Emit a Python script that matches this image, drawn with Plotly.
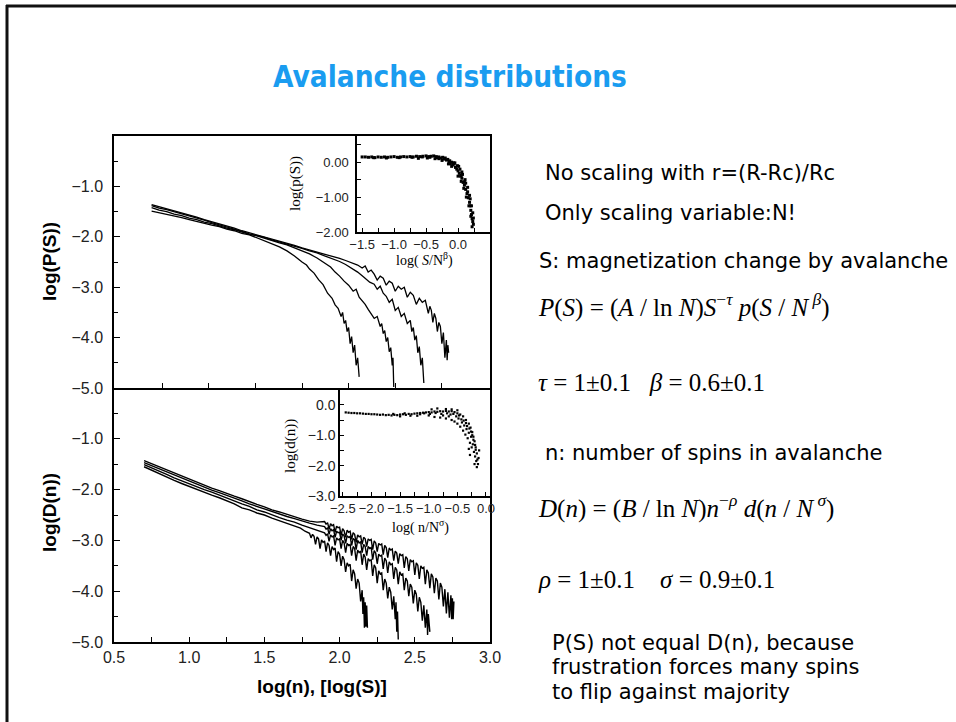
import plotly.graph_objects as go

W, H = 956, 722

# ---- P(S): four system sizes, log(S) vs log(P(S)) ----
ps_a_x = [0.75, 0.80, 0.85, 0.90, 0.95, 1.00, 1.05, 1.10, 1.15, 1.20, 1.25, 1.30, 1.35, 1.40, 1.45, 1.50,
          1.55, 1.60, 1.65, 1.70, 1.75, 1.78, 1.80, 1.83, 1.86, 1.89, 1.92, 1.95, 1.97, 1.99, 2.01, 2.02,
          2.03, 2.04, 2.05, 2.06, 2.07, 2.08, 2.09, 2.10, 2.11, 2.12, 2.13]
ps_a_y = [-1.49, -1.52, -1.56, -1.59, -1.62, -1.66, -1.70, -1.73, -1.77, -1.80, -1.85, -1.88, -1.93, -1.96, -2.02, -2.08,
          -2.13, -2.20, -2.28, -2.38, -2.50, -2.56, -2.64, -2.72, -2.85, -2.95, -3.12, -3.22, -3.35, -3.42, -3.58, -3.50,
          -3.72, -3.66, -3.88, -3.80, -4.12, -3.98, -4.30, -4.15, -4.55, -4.40, -4.78]

ps_b_x = [0.75, 0.80, 0.85, 0.90, 0.95, 1.00, 1.05, 1.10, 1.15, 1.20, 1.25, 1.30, 1.35, 1.40, 1.45, 1.50,
          1.55, 1.60, 1.65, 1.70, 1.75, 1.80, 1.85, 1.90, 1.94, 1.97, 2.00, 2.03, 2.06, 2.09, 2.11, 2.13,
          2.15, 2.17, 2.19, 2.21, 2.23, 2.25, 2.27, 2.28, 2.29, 2.30, 2.31, 2.32, 2.33, 2.34, 2.35, 2.355, 2.36]
ps_b_y = [-1.42, -1.47, -1.50, -1.55, -1.58, -1.63, -1.66, -1.71, -1.74, -1.79, -1.83, -1.86, -1.91, -1.95, -1.98, -2.03,
          -2.07, -2.12, -2.16, -2.22, -2.28, -2.34, -2.42, -2.52, -2.60, -2.70, -2.78, -2.88, -2.96, -3.08, -3.04, -3.20,
          -3.26, -3.34, -3.44, -3.52, -3.62, -3.58, -3.78, -3.72, -3.92, -3.86, -4.08, -4.00, -4.28, -4.20, -4.55, -4.40, -4.98]

ps_c_x = [0.75, 0.80, 0.85, 0.90, 0.95, 1.00, 1.05, 1.10, 1.15, 1.20, 1.25, 1.30, 1.35, 1.40, 1.45, 1.50,
          1.55, 1.60, 1.65, 1.70, 1.75, 1.80, 1.85, 1.90, 1.95, 2.00, 2.04, 2.08, 2.12, 2.16, 2.20, 2.23,
          2.25, 2.27, 2.29, 2.31, 2.33, 2.35, 2.37, 2.39, 2.41, 2.43, 2.45, 2.47, 2.48, 2.49, 2.50, 2.51,
          2.52, 2.53, 2.54, 2.55, 2.56]
ps_c_y = [-1.38, -1.43, -1.46, -1.50, -1.55, -1.58, -1.63, -1.67, -1.72, -1.76, -1.80, -1.85, -1.89, -1.94, -1.97, -2.01,
          -2.06, -2.10, -2.14, -2.19, -2.23, -2.28, -2.32, -2.38, -2.43, -2.49, -2.55, -2.62, -2.70, -2.80, -2.90, -2.94,
          -3.04, -2.98, -3.12, -3.18, -3.30, -3.24, -3.46, -3.40, -3.58, -3.52, -3.72, -3.66, -3.88, -3.80, -4.05, -3.96,
          -4.30, -4.18, -4.55, -4.40, -4.90]

ps_d_x = [0.75, 0.80, 0.85, 0.90, 0.95, 1.00, 1.05, 1.10, 1.15, 1.20, 1.25, 1.30, 1.35, 1.40, 1.45, 1.50,
          1.55, 1.60, 1.65, 1.70, 1.75, 1.80, 1.85, 1.90, 1.95, 2.00, 2.04, 2.08, 2.12,
          2.15, 2.17, 2.19, 2.21, 2.23, 2.25, 2.27, 2.29, 2.31, 2.33, 2.35, 2.37, 2.39, 2.41, 2.43, 2.45,
          2.47, 2.49, 2.51, 2.53, 2.55, 2.57, 2.59, 2.60, 2.61, 2.62, 2.63, 2.64, 2.65, 2.66, 2.67, 2.68,
          2.69, 2.70, 2.71, 2.715, 2.72, 2.725]
ps_d_y = [-1.36, -1.40, -1.44, -1.48, -1.52, -1.56, -1.61, -1.66, -1.70, -1.74, -1.79, -1.83, -1.88, -1.92, -1.96, -2.00,
          -2.04, -2.08, -2.13, -2.17, -2.22, -2.26, -2.30, -2.34, -2.39, -2.43, -2.47, -2.52, -2.56,
          -2.62, -2.58, -2.70, -2.66, -2.74, -2.86, -2.78, -2.82, -2.96, -2.88, -2.92, -3.08, -2.98, -3.04, -3.00, -3.20,
          -3.10, -3.16, -3.34, -3.22, -3.30, -3.26, -3.52, -3.38, -3.46, -3.70, -3.52, -3.62, -3.88, -3.70, -3.78, -4.12,
          -3.90, -4.40, -4.05, -4.45, -4.15, -4.30]

# ---- D(n): four system sizes, log(n) vs log(D(n)); power-law part ----
dn_a_head_x = [0.70, 0.75, 0.80, 0.85, 0.90, 0.95, 1.00, 1.05, 1.10, 1.15, 1.20, 1.25, 1.30, 1.35, 1.40,
               1.45, 1.50, 1.55, 1.60, 1.65, 1.70, 1.74, 1.77]
dn_a_head_y = [-1.55, -1.62, -1.69, -1.75, -1.82, -1.88, -1.94, -2.00, -2.05, -2.11, -2.16, -2.22, -2.28, -2.36, -2.40,
               -2.46, -2.50, -2.56, -2.61, -2.66, -2.72, -2.76, -2.82]
dn_b_head_x = [0.70, 0.75, 0.80, 0.85, 0.90, 0.95, 1.00, 1.05, 1.10, 1.15, 1.20, 1.25, 1.30, 1.35, 1.40,
               1.45, 1.50, 1.55, 1.60, 1.65, 1.70, 1.75, 1.80, 1.85]
dn_b_head_y = [-1.51, -1.57, -1.64, -1.70, -1.77, -1.83, -1.89, -1.95, -2.00, -2.05, -2.11, -2.17, -2.22, -2.28, -2.33,
               -2.40, -2.44, -2.50, -2.55, -2.60, -2.64, -2.70, -2.75, -2.80]
dn_c_head_x = [0.70, 0.75, 0.80, 0.85, 0.90, 0.95, 1.00, 1.05, 1.10, 1.15, 1.20, 1.25, 1.30, 1.35, 1.40,
               1.45, 1.50, 1.55, 1.60, 1.65, 1.70, 1.75, 1.80, 1.85]
dn_c_head_y = [-1.47, -1.53, -1.60, -1.66, -1.72, -1.78, -1.84, -1.90, -1.95, -2.01, -2.06, -2.11, -2.17, -2.22, -2.28,
               -2.33, -2.38, -2.44, -2.48, -2.53, -2.57, -2.62, -2.66, -2.70]
dn_d_head_x = [0.70, 0.75, 0.80, 0.85, 0.90, 0.95, 1.00, 1.05, 1.10, 1.15, 1.20, 1.25, 1.30, 1.35, 1.40,
               1.45, 1.50, 1.55, 1.60, 1.65, 1.70, 1.75, 1.80, 1.85]
dn_d_head_y = [-1.43, -1.49, -1.55, -1.62, -1.68, -1.74, -1.80, -1.86, -1.91, -1.97, -2.02, -2.08, -2.13, -2.18, -2.24,
               -2.29, -2.34, -2.40, -2.44, -2.49, -2.53, -2.58, -2.62, -2.64]

# ---- D(n): noisy cutoff regions as (log n, log D) pairs ----
dn_a_tail = [(1.80, -2.86), (1.81, -2.95), (1.82, -2.88), (1.83, -2.92), (1.84, -3.08), (1.85, -2.93), (1.86, -2.97),
             (1.87, -3.16), (1.88, -2.99), (1.89, -3.04), (1.90, -3.01), (1.91, -3.22), (1.92, -3.05), (1.93, -3.10),
             (1.94, -3.30), (1.95, -3.12), (1.96, -3.18), (1.97, -3.15), (1.98, -3.42), (1.99, -3.22), (2.00, -3.27),
             (2.01, -3.50), (2.02, -3.31), (2.03, -3.38), (2.04, -3.62), (2.05, -3.44), (2.06, -3.50), (2.07, -3.47),
             (2.08, -3.80), (2.09, -3.58), (2.10, -3.66), (2.11, -3.95), (2.12, -3.76), (2.13, -3.84), (2.14, -4.20),
             (2.15, -3.98), (2.155, -4.45), (2.16, -4.12), (2.165, -4.72), (2.17, -4.22), (2.175, -4.70), (2.18, -4.28),
             (2.185, -4.72)]
dn_b_tail = [(1.90, -2.85), (1.91, -2.90), (1.92, -2.87), (1.93, -3.02), (1.94, -2.89), (1.95, -2.93), (1.96, -2.91),
             (1.97, -3.10), (1.98, -2.95), (1.99, -2.99), (2.00, -2.97), (2.01, -3.16), (2.02, -3.00), (2.03, -3.05),
             (2.04, -3.24), (2.05, -3.06), (2.06, -3.10), (2.07, -3.08), (2.08, -3.30), (2.09, -3.12), (2.10, -3.16),
             (2.11, -3.40), (2.12, -3.19), (2.13, -3.24), (2.14, -3.21), (2.15, -3.48), (2.16, -3.27), (2.17, -3.33),
             (2.18, -3.58), (2.19, -3.36), (2.20, -3.40), (2.21, -3.38), (2.22, -3.70), (2.23, -3.48), (2.24, -3.54),
             (2.25, -3.84), (2.26, -3.60), (2.27, -3.66), (2.28, -3.64), (2.29, -3.98), (2.30, -3.76), (2.31, -3.84),
             (2.32, -4.14), (2.33, -3.92), (2.34, -4.02), (2.35, -4.36), (2.36, -4.10), (2.37, -4.55), (2.375, -4.22),
             (2.38, -4.80), (2.385, -4.40), (2.39, -4.95)]
dn_c_tail = [(1.90, -2.73), (1.91, -2.78), (1.92, -2.75), (1.93, -2.88), (1.94, -2.77), (1.95, -2.81), (1.96, -2.79),
             (1.97, -2.94), (1.98, -2.82), (1.99, -2.85), (2.00, -2.84), (2.01, -3.00), (2.02, -2.87), (2.03, -2.91),
             (2.04, -3.06), (2.05, -2.91), (2.06, -2.94), (2.07, -2.92), (2.08, -3.10), (2.09, -2.96), (2.10, -2.99),
             (2.11, -3.18), (2.12, -3.00), (2.13, -3.05), (2.14, -3.03), (2.15, -3.24), (2.16, -3.08), (2.17, -3.12),
             (2.18, -3.30), (2.19, -3.12), (2.20, -3.16), (2.21, -3.14), (2.22, -3.38), (2.23, -3.20), (2.24, -3.25),
             (2.25, -3.46), (2.26, -3.27), (2.27, -3.31), (2.28, -3.29), (2.29, -3.56), (2.30, -3.35), (2.31, -3.40),
             (2.32, -3.64), (2.33, -3.42), (2.34, -3.48), (2.35, -3.46), (2.36, -3.76), (2.37, -3.53), (2.38, -3.58),
             (2.39, -3.86), (2.40, -3.62), (2.41, -3.68), (2.42, -3.66), (2.43, -3.98), (2.44, -3.74), (2.45, -3.80),
             (2.46, -4.10), (2.47, -3.86), (2.48, -3.92), (2.49, -4.24), (2.50, -3.98), (2.51, -4.06), (2.52, -4.40),
             (2.53, -4.12), (2.54, -4.22), (2.55, -4.58), (2.56, -4.28), (2.57, -4.72), (2.58, -4.36), (2.585, -4.86),
             (2.59, -4.45), (2.60, -4.80)]
dn_d_tail = [(1.90, -2.63), (1.91, -2.68), (1.92, -2.65), (1.93, -2.78), (1.94, -2.67), (1.95, -2.71), (1.96, -2.69),
             (1.97, -2.84), (1.98, -2.72), (1.99, -2.75), (2.00, -2.74), (2.01, -2.90), (2.02, -2.77), (2.03, -2.81),
             (2.04, -2.94), (2.05, -2.80), (2.06, -2.84), (2.07, -2.82), (2.08, -2.98), (2.09, -2.85), (2.10, -2.88),
             (2.11, -3.04), (2.12, -2.89), (2.13, -2.93), (2.14, -2.91), (2.15, -3.08), (2.16, -2.94), (2.17, -2.97),
             (2.18, -3.12), (2.19, -2.97), (2.20, -3.00), (2.21, -2.98), (2.22, -3.18), (2.23, -3.01), (2.24, -3.05),
             (2.25, -3.22), (2.26, -3.06), (2.27, -3.09), (2.28, -3.07), (2.29, -3.28), (2.30, -3.10), (2.31, -3.14),
             (2.32, -3.34), (2.33, -3.15), (2.34, -3.19), (2.35, -3.17), (2.36, -3.40), (2.37, -3.21), (2.38, -3.25),
             (2.39, -3.46), (2.40, -3.26), (2.41, -3.30), (2.42, -3.28), (2.43, -3.54), (2.44, -3.32), (2.45, -3.36),
             (2.46, -3.60), (2.47, -3.38), (2.48, -3.42), (2.49, -3.40), (2.50, -3.68), (2.51, -3.44), (2.52, -3.49),
             (2.53, -3.76), (2.54, -3.50), (2.55, -3.55), (2.56, -3.53), (2.57, -3.86), (2.58, -3.58), (2.59, -3.64),
             (2.60, -3.94), (2.61, -3.66), (2.62, -3.72), (2.63, -4.04), (2.64, -3.74), (2.65, -3.80), (2.66, -4.16),
             (2.67, -3.84), (2.68, -3.92), (2.69, -4.30), (2.70, -3.96), (2.71, -4.44), (2.72, -4.02), (2.73, -4.52),
             (2.74, -4.08), (2.745, -4.55), (2.75, -4.14), (2.755, -4.55), (2.76, -4.20)]

# ---- scaling collapse p(S / N^beta) ----
pc_x = [-1.50, -1.45, -1.40, -1.35, -1.30, -1.25, -1.20, -1.15, -1.10, -1.05, -1.00, -0.95, -0.90, -0.85, -0.80,
        -0.75, -0.70, -0.65, -0.60, -0.55, -0.50, -0.46, -0.42, -0.38, -0.34, -0.30, -0.27, -0.24, -0.21, -0.18,
        -0.16, -0.14, -0.12, -0.10, -0.08, -0.06, -0.04, -0.02, 0.00, 0.02, 0.04, 0.06, 0.08, 0.10, 0.12,
        0.14, 0.16, 0.18, 0.19, 0.20, 0.21, 0.22, 0.23, 0.24,
        -0.30, -0.20, -0.15, -0.10, -0.05, 0.00, 0.03, 0.05, 0.07, 0.09, 0.11, 0.13, 0.15, 0.17, 0.18,
        0.20, 0.21, 0.22, 0.23, 0.24, -0.62, -0.48, -0.36, -0.25, 0.01, 0.06, 0.12, 0.19,
        -1.32, -1.12, -0.92, -0.72, -0.56, -0.44, -0.33, -0.22, -0.13, -0.07, -0.01, 0.05, 0.10, 0.15]
pc_y = [0.15, 0.15, 0.14, 0.15, 0.13, 0.15, 0.14, 0.15, 0.14, 0.15, 0.16, 0.14, 0.15, 0.16, 0.15,
        0.16, 0.15, 0.17, 0.16, 0.17, 0.18, 0.16, 0.17, 0.18, 0.16, 0.15, 0.12, 0.14, 0.10, 0.06,
        0.08, 0.02, -0.04, 0.00, -0.08, -0.05, -0.15, -0.20, -0.25, -0.32, -0.40, -0.46, -0.58, -0.66, -0.78,
        -0.90, -1.02, -1.15, -1.25, -1.38, -1.50, -1.62, -1.70, -1.78,
        0.10, 0.12, -0.05, -0.12, -0.02, -0.40, -0.20, -0.55, -0.35, -0.75, -0.50, -1.00, -0.72, -1.25, -0.95,
        -1.55, -1.25, -1.85, -1.45, -1.60, 0.11, 0.12, 0.10, 0.05, -0.12, -0.28, -0.60, -1.05,
        0.13, 0.12, 0.13, 0.14, 0.15, 0.14, 0.13, 0.09, 0.04, -0.02, -0.10, -0.38, -0.56, -0.85]

# ---- scaling collapse d(n / N^sigma) ----
dc_x = [-2.45, -2.40, -2.35, -2.30, -2.25, -2.20, -2.15, -2.10, -2.05, -2.00, -1.95, -1.90, -1.85, -1.80,
        -1.75, -1.70, -1.65, -1.60, -1.55, -1.50, -1.45, -1.40, -1.35, -1.30, -1.25, -1.20, -1.15, -1.10,
        -1.05, -1.00, -0.95, -0.90, -0.85, -0.80, -0.75, -0.70, -0.65, -0.60, -0.55, -0.50, -0.45, -0.40,
        -0.35, -0.30, -0.27, -0.24, -0.22, -0.20, -0.18, -0.16, -0.15, -0.14,
        -1.50, -1.20, -1.00, -0.90, -0.80, -0.75, -0.70, -0.65, -0.60, -0.55, -0.50, -0.48, -0.45, -0.42,
        -0.40, -0.38, -0.36, -0.34, -0.32, -0.30, -0.28, -0.26, -0.25, -0.23, -0.21, -0.19, -0.17, -0.16,
        -0.13, -0.12, -0.30, -0.28, -0.20, -0.95, -0.85, -0.70, -0.60, -0.50,
        -1.62, -1.42, -1.32, -1.15, -1.08, -0.98, -0.88, -0.78, -0.68, -0.62, -0.57, -0.52, -0.47, -0.43,
        -0.39, -0.35, -0.33, -0.29, -0.26, -0.24, -0.22, -0.19, -0.18]
dc_y = [-0.25, -0.26, -0.27, -0.27, -0.28, -0.28, -0.29, -0.30, -0.30, -0.31, -0.31, -0.32, -0.33, -0.32,
        -0.34, -0.33, -0.35, -0.33, -0.34, -0.32, -0.31, -0.33, -0.30, -0.31, -0.29, -0.28, -0.27, -0.26,
        -0.25, -0.24, -0.25, -0.22, -0.23, -0.21, -0.22, -0.20, -0.22, -0.21, -0.24, -0.28, -0.32, -0.38,
        -0.50, -0.62, -0.75, -0.90, -1.05, -1.20, -1.40, -1.60, -1.80, -1.95,
        -0.38, -0.36, -0.35, -0.40, -0.42, -0.35, -0.45, -0.38, -0.50, -0.55, -0.62, -0.45, -0.72, -0.58,
        -0.85, -0.68, -0.98, -0.80, -1.10, -0.92, -1.25, -1.05, -1.40, -1.30, -1.55, -1.70, -1.85, -2.05,
        -1.75, -1.50, -1.45, -1.65, -1.95, -0.15, -0.12, -0.14, -0.15, -0.18,
        -0.30, -0.28, -0.36, -0.31, -0.28, -0.30, -0.27, -0.30, -0.28, -0.32, -0.30, -0.38, -0.35, -0.48,
        -0.52, -0.60, -0.70, -0.78, -0.88, -1.00, -1.15, -1.32, -1.48]

# ---- text on the right ----
notes_top = ["No scaling with r=(R-Rc)/Rc", "Only scaling variable:N!", "S: magnetization change by avalanche"]
formula_ps = ("<i>P</i>(<i>S</i>) = (<i>A</i> / ln <i>N</i>)<i>S</i><sup>−<i>τ</i></sup> "
              "<i>p</i>(<i>S</i> / <i>N</i><sup> <i>β</i></sup>)")
exps_ps = "<i>τ</i> = 1±0.1   <i>β</i> = 0.6±0.1"
note_n = "n: number of spins in avalanche"
formula_dn = ("<i>D</i>(<i>n</i>) = (<i>B</i> / ln <i>N</i>)<i>n</i><sup>−<i>ρ</i></sup> "
              "<i>d</i>(<i>n</i> / <i>N</i><sup> <i>σ</i></sup>)")
exps_dn = "<i>ρ</i> = 1±0.1    <i>σ</i> = 0.9±0.1"
note_bottom = ["P(S) not equal D(n), because", "frustration forces many spins", "to flip against majority"]

main_ticks = [-5, -4, -3, -2, -1]
main_minor = [-4.5, -3.5, -2.5, -1.5, -0.5]
x_ticks = [0.5, 1.0, 1.5, 2.0, 2.5, 3.0]


def px(x):
    return x / W


def py(y):
    return 1 - y / H


SANS = "Liberation Sans, Arial, sans-serif"
SERIF = "Liberation Serif, Times New Roman, serif"
VERD = "DejaVu Sans, Verdana, sans-serif"

fig = go.Figure()

line_style = dict(color="black", width=1.3)
for xs, ys in [(ps_a_x, ps_a_y), (ps_b_x, ps_b_y), (ps_c_x, ps_c_y), (ps_d_x, ps_d_y)]:
    fig.add_trace(go.Scatter(x=xs, y=ys, mode="lines", line=line_style, xaxis="x", yaxis="y",
                             showlegend=False, hoverinfo="skip"))
for hx, hy, tail in [(dn_a_head_x, dn_a_head_y, dn_a_tail), (dn_b_head_x, dn_b_head_y, dn_b_tail),
                     (dn_c_head_x, dn_c_head_y, dn_c_tail), (dn_d_head_x, dn_d_head_y, dn_d_tail)]:
    tx = [p[0] for p in tail]
    ty = [p[1] for p in tail]
    fig.add_trace(go.Scatter(x=hx + tx, y=hy + ty, mode="lines", line=dict(color="black", width=1.4),
                             xaxis="x2", yaxis="y2", showlegend=False, hoverinfo="skip"))

fig.add_trace(go.Scatter(x=pc_x, y=pc_y, mode="markers", xaxis="x3", yaxis="y3", showlegend=False,
                         marker=dict(symbol="square", size=3, color="black", line=dict(width=0)),
                         hoverinfo="skip"))
fig.add_trace(go.Scatter(x=dc_x, y=dc_y, mode="markers", xaxis="x4", yaxis="y4", showlegend=False,
                         marker=dict(symbol="square", size=2.2, color="black", line=dict(width=0)),
                         hoverinfo="skip"))

main_dom_x = [px(114), px(490)]
top_dom_y = [py(388), py(136)]
bot_dom_y = [py(642), py(388)]

axis_common = dict(showline=True, linecolor="black", linewidth=1.5, ticks="inside", tickcolor="black",
                   tickwidth=1.2, showgrid=False, zeroline=False, automargin=False)
main_font = dict(family=SANS, size=16, color="#222")
inset_font = dict(family=SANS, size=13, color="#222")

fig.update_layout(
    width=W, height=H, margin=dict(l=0, r=0, t=0, b=0, autoexpand=False),
    paper_bgcolor="white", plot_bgcolor="rgba(0,0,0,0)",
    xaxis=dict(domain=main_dom_x, anchor="y", range=[0.5, 3.0], mirror=True, showticklabels=False,
               tickmode="array", tickvals=[0.82, 1.13, 1.44, 1.75, 2.06, 2.37, 2.68], ticklen=5, **axis_common),
    yaxis=dict(domain=top_dom_y, anchor="x", range=[-5, 0], mirror=True, tickmode="array",
               tickvals=main_ticks, tickformat=".1f", ticklen=6, tickfont=main_font, ticklabelstandoff=6,
               minor=dict(tickmode="array", tickvals=main_minor, ticks="inside", ticklen=4, tickcolor="black"),
               **axis_common),
    # the panel divider is drawn by the upper panel's x axis, so no mirrored top line here
    xaxis2=dict(domain=main_dom_x, anchor="y2", range=[0.5, 3.0], mirror=False, tickmode="array",
                tickvals=x_ticks, tickformat=".1f", ticklen=5, tickfont=main_font,
                minor=dict(tickmode="array", tickvals=[0.75, 1.25, 1.75, 2.25, 2.75], ticks="inside",
                           ticklen=5, tickcolor="black"),
                **axis_common),
    yaxis2=dict(domain=bot_dom_y, anchor="x2", range=[-5, 0], mirror=True, tickmode="array",
                tickvals=main_ticks, tickformat=".1f", ticklen=6, tickfont=main_font, ticklabelstandoff=6,
                minor=dict(tickmode="array", tickvals=main_minor, ticks="inside", ticklen=4, tickcolor="black"),
                **axis_common),
    xaxis3=dict(domain=[px(357), px(490)], anchor="y3", range=[-1.58, 0.5], tickmode="array",
                tickvals=[-1.5, -1.0, -0.5, 0.0], tickformat=".1f", ticklen=4, tickfont=inset_font,
                minor=dict(tickmode="array", tickvals=[-1.25, -0.75, -0.25, 0.25], ticks="inside",
                           ticklen=4, tickcolor="black"),
                **axis_common),
    yaxis3=dict(domain=[py(232), py(136)], anchor="x3", range=[-2.0, 0.75], tickmode="array",
                tickvals=[-2, -1, 0], tickformat=".2f", ticklen=4, tickfont=inset_font, ticklabelstandoff=4,
                minor=dict(tickmode="array", tickvals=[-1.5, -0.5, 0.5], ticks="inside", ticklen=4,
                           tickcolor="black"),
                **axis_common),
    xaxis4=dict(domain=[px(340), px(490)], anchor="y4", range=[-2.55, 0.07], tickmode="array",
                tickvals=[-2.5, -2.0, -1.5, -1.0, -0.5, 0.0], tickformat=".1f", ticklen=4, tickfont=inset_font,
                minor=dict(tickmode="array", tickvals=[-2.25, -1.75, -1.25, -0.75, -0.25], ticks="inside",
                           ticklen=4, tickcolor="black"),
                **axis_common),
    yaxis4=dict(domain=[py(496), py(389)], anchor="x4", range=[-3.0, 0.52], tickmode="array",
                tickvals=[-3, -2, -1, 0], tickformat=".1f", ticklen=4,
                tickfont=dict(family=SANS, size=14, color="#222"),
                minor=dict(tickmode="array", tickvals=[-2.5, -1.5, -0.5], ticks="inside", ticklen=4,
                           tickcolor="black"),
                **axis_common),
)

# slide frame (top and left edges)
fig.add_shape(type="line", xref="paper", yref="paper", x0=px(6), x1=1, y0=py(6), y1=py(6),
              line=dict(color="#111", width=3))
fig.add_shape(type="line", xref="paper", yref="paper", x0=px(7), x1=px(7), y0=py(5), y1=0,
              line=dict(color="#111", width=3))

ann = []


def add_text(x, y, text, size, family, color="black", xanchor="left", textangle=0, bold=False):
    ann.append(dict(x=px(x), y=py(y), xref="paper", yref="paper", text=text, showarrow=False,
                    xanchor=xanchor, yanchor="middle", textangle=textangle,
                    font=dict(size=size, family=family, color=color, weight="bold" if bold else "normal")))


add_text(450, 77, "Avalanche distributions", 29.5, "DejaVu Sans Condensed, DejaVu Sans, sans-serif",
         color="#1a9cf0", xanchor="center", bold=True)

# axis titles
add_text(49, 262, "log(P(S))", 19, SANS, xanchor="center", textangle=-90, bold=True)
add_text(49, 513, "log(D(n))", 19, SANS, xanchor="center", textangle=-90, bold=True)
add_text(322, 686, "log(n), [log(S)]", 19, SANS, xanchor="center", bold=True)
add_text(295, 184, "log(p(S))", 15, SERIF, xanchor="center", textangle=-90)
add_text(424, 259, "log( <i>S</i>/N<sup>β</sup>)", 14, SERIF, xanchor="center")
add_text(290, 446, "log(d(n))", 15, SERIF, xanchor="center", textangle=-90)
add_text(420, 526, "log( n/N<sup>σ</sup>)", 14, SERIF, xanchor="center")

# notes on the right
add_text(543, 173, notes_top[0], 21, VERD)
add_text(543, 213, notes_top[1], 21, VERD)
add_text(537, 261, notes_top[2], 21, VERD)
add_text(536, 305, formula_ps, 25, SERIF)
add_text(536, 382, exps_ps, 25, SERIF)
add_text(543, 453, note_n, 21, VERD)
add_text(536, 506, formula_dn, 25, SERIF)
add_text(536, 579, exps_dn, 25, SERIF)
add_text(550, 643, note_bottom[0], 21, VERD)
add_text(550, 667, note_bottom[1], 21, VERD)
add_text(550, 692, note_bottom[2], 21, VERD)

fig.update_layout(annotations=ann)
fig.write_html("out.html")
